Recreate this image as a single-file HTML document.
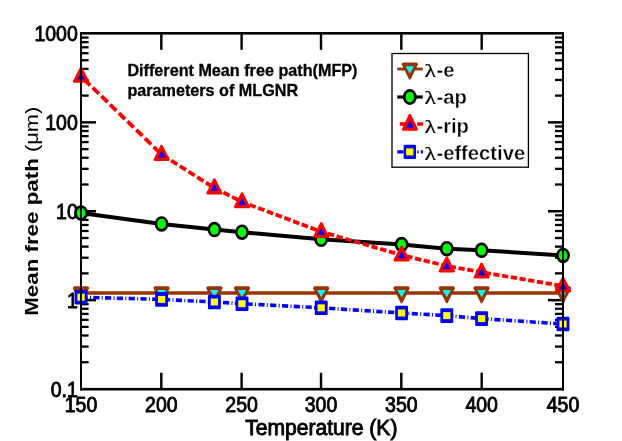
<!DOCTYPE html>
<html><head><meta charset="utf-8"><title>Mean free path vs Temperature</title><style>
html,body{margin:0;padding:0;background:#fff;}
body{width:622px;height:441px;overflow:hidden;}
svg{display:block;}
</style></head><body>
<svg width="622" height="441" viewBox="0 0 622 441">
<rect width="622" height="441" fill="#fff"/>
<g fill="#000">
<rect x="160.10" y="34" width="2.4" height="15.8"/>
<rect x="160.10" y="372.7" width="2.4" height="15.8"/>
<rect x="240.40" y="34" width="2.4" height="15.8"/>
<rect x="240.40" y="372.7" width="2.4" height="15.8"/>
<rect x="319.80" y="34" width="2.4" height="15.8"/>
<rect x="319.80" y="372.7" width="2.4" height="15.8"/>
<rect x="400.10" y="34" width="2.4" height="15.8"/>
<rect x="400.10" y="372.7" width="2.4" height="15.8"/>
<rect x="480.50" y="34" width="2.4" height="15.8"/>
<rect x="480.50" y="372.7" width="2.4" height="15.8"/>
<rect x="81" y="361.10" width="7.6" height="2.3"/>
<rect x="555" y="361.10" width="7.5" height="2.3"/>
<rect x="81" y="345.45" width="7.6" height="2.3"/>
<rect x="555" y="345.45" width="7.5" height="2.3"/>
<rect x="81" y="334.34" width="7.6" height="2.3"/>
<rect x="555" y="334.34" width="7.5" height="2.3"/>
<rect x="81" y="325.73" width="7.6" height="2.3"/>
<rect x="555" y="325.73" width="7.5" height="2.3"/>
<rect x="81" y="318.69" width="7.6" height="2.3"/>
<rect x="555" y="318.69" width="7.5" height="2.3"/>
<rect x="81" y="312.74" width="7.6" height="2.3"/>
<rect x="555" y="312.74" width="7.5" height="2.3"/>
<rect x="81" y="307.59" width="7.6" height="2.3"/>
<rect x="555" y="307.59" width="7.5" height="2.3"/>
<rect x="81" y="303.04" width="7.6" height="2.3"/>
<rect x="555" y="303.04" width="7.5" height="2.3"/>
<rect x="81" y="298.88" width="15" height="2.5"/>
<rect x="548" y="298.88" width="15" height="2.5"/>
<rect x="81" y="272.22" width="7.6" height="2.3"/>
<rect x="555" y="272.22" width="7.5" height="2.3"/>
<rect x="81" y="256.57" width="7.6" height="2.3"/>
<rect x="555" y="256.57" width="7.5" height="2.3"/>
<rect x="81" y="245.47" width="7.6" height="2.3"/>
<rect x="555" y="245.47" width="7.5" height="2.3"/>
<rect x="81" y="236.85" width="7.6" height="2.3"/>
<rect x="555" y="236.85" width="7.5" height="2.3"/>
<rect x="81" y="229.82" width="7.6" height="2.3"/>
<rect x="555" y="229.82" width="7.5" height="2.3"/>
<rect x="81" y="223.87" width="7.6" height="2.3"/>
<rect x="555" y="223.87" width="7.5" height="2.3"/>
<rect x="81" y="218.71" width="7.6" height="2.3"/>
<rect x="555" y="218.71" width="7.5" height="2.3"/>
<rect x="81" y="214.17" width="7.6" height="2.3"/>
<rect x="555" y="214.17" width="7.5" height="2.3"/>
<rect x="81" y="210.00" width="15" height="2.5"/>
<rect x="548" y="210.00" width="15" height="2.5"/>
<rect x="81" y="183.35" width="7.6" height="2.3"/>
<rect x="555" y="183.35" width="7.5" height="2.3"/>
<rect x="81" y="167.70" width="7.6" height="2.3"/>
<rect x="555" y="167.70" width="7.5" height="2.3"/>
<rect x="81" y="156.59" width="7.6" height="2.3"/>
<rect x="555" y="156.59" width="7.5" height="2.3"/>
<rect x="81" y="147.98" width="7.6" height="2.3"/>
<rect x="555" y="147.98" width="7.5" height="2.3"/>
<rect x="81" y="140.94" width="7.6" height="2.3"/>
<rect x="555" y="140.94" width="7.5" height="2.3"/>
<rect x="81" y="134.99" width="7.6" height="2.3"/>
<rect x="555" y="134.99" width="7.5" height="2.3"/>
<rect x="81" y="129.84" width="7.6" height="2.3"/>
<rect x="555" y="129.84" width="7.5" height="2.3"/>
<rect x="81" y="125.29" width="7.6" height="2.3"/>
<rect x="555" y="125.29" width="7.5" height="2.3"/>
<rect x="81" y="121.12" width="15" height="2.5"/>
<rect x="548" y="121.12" width="15" height="2.5"/>
<rect x="81" y="94.47" width="7.6" height="2.3"/>
<rect x="555" y="94.47" width="7.5" height="2.3"/>
<rect x="81" y="78.82" width="7.6" height="2.3"/>
<rect x="555" y="78.82" width="7.5" height="2.3"/>
<rect x="81" y="67.72" width="7.6" height="2.3"/>
<rect x="555" y="67.72" width="7.5" height="2.3"/>
<rect x="81" y="59.10" width="7.6" height="2.3"/>
<rect x="555" y="59.10" width="7.5" height="2.3"/>
<rect x="81" y="52.07" width="7.6" height="2.3"/>
<rect x="555" y="52.07" width="7.5" height="2.3"/>
<rect x="81" y="46.12" width="7.6" height="2.3"/>
<rect x="555" y="46.12" width="7.5" height="2.3"/>
<rect x="81" y="40.96" width="7.6" height="2.3"/>
<rect x="555" y="40.96" width="7.5" height="2.3"/>
<rect x="81" y="36.42" width="7.6" height="2.3"/>
<rect x="555" y="36.42" width="7.5" height="2.3"/>
</g>
<text transform="translate(77.80,41.10) scale(0.92,1)" font-family="'Liberation Sans', Arial, sans-serif" font-size="21.2" font-weight="normal" text-anchor="end" stroke="#000" stroke-width="0.9">1000</text>
<text transform="translate(77.80,129.97) scale(0.92,1)" font-family="'Liberation Sans', Arial, sans-serif" font-size="21.2" font-weight="normal" text-anchor="end" stroke="#000" stroke-width="0.9">100</text>
<text transform="translate(77.80,218.85) scale(0.92,1)" font-family="'Liberation Sans', Arial, sans-serif" font-size="21.2" font-weight="normal" text-anchor="end" stroke="#000" stroke-width="0.9">10</text>
<text transform="translate(77.80,307.73) scale(0.92,1)" font-family="'Liberation Sans', Arial, sans-serif" font-size="21.2" font-weight="normal" text-anchor="end" stroke="#000" stroke-width="0.9">1</text>
<text transform="translate(77.80,396.60) scale(0.92,1)" font-family="'Liberation Sans', Arial, sans-serif" font-size="21.2" font-weight="normal" text-anchor="end" stroke="#000" stroke-width="0.9">0.1</text>
<text transform="translate(81.00,411.80) scale(0.92,1)" font-family="'Liberation Sans', Arial, sans-serif" font-size="21.2" font-weight="normal" text-anchor="middle" stroke="#000" stroke-width="0.9">150</text>
<text transform="translate(161.30,411.80) scale(0.92,1)" font-family="'Liberation Sans', Arial, sans-serif" font-size="21.2" font-weight="normal" text-anchor="middle" stroke="#000" stroke-width="0.9">200</text>
<text transform="translate(241.60,411.80) scale(0.92,1)" font-family="'Liberation Sans', Arial, sans-serif" font-size="21.2" font-weight="normal" text-anchor="middle" stroke="#000" stroke-width="0.9">250</text>
<text transform="translate(321.00,411.80) scale(0.92,1)" font-family="'Liberation Sans', Arial, sans-serif" font-size="21.2" font-weight="normal" text-anchor="middle" stroke="#000" stroke-width="0.9">300</text>
<text transform="translate(401.30,411.80) scale(0.92,1)" font-family="'Liberation Sans', Arial, sans-serif" font-size="21.2" font-weight="normal" text-anchor="middle" stroke="#000" stroke-width="0.9">350</text>
<text transform="translate(481.70,411.80) scale(0.92,1)" font-family="'Liberation Sans', Arial, sans-serif" font-size="21.2" font-weight="normal" text-anchor="middle" stroke="#000" stroke-width="0.9">400</text>
<text transform="translate(563.00,411.80) scale(0.92,1)" font-family="'Liberation Sans', Arial, sans-serif" font-size="21.2" font-weight="normal" text-anchor="middle" stroke="#000" stroke-width="0.9">450</text>
<polyline points="81.00,293.00 161.60,293.00 214.40,293.00 242.00,293.00 321.20,293.00 401.60,293.00 446.80,293.00 481.60,293.00 563.00,293.00" fill="none" stroke="#983404" stroke-width="3.4"/>
<polyline points="81.00,213.10 161.60,223.90 214.40,229.60 242.00,232.20 321.20,239.30 401.60,244.50 446.80,248.70 481.60,250.30 563.00,255.40" fill="none" stroke="#000" stroke-width="4.0"/>
<path d="M81.00,76.40L81.47,76.86M83.98,79.29L90.18,85.30M92.69,87.73L98.89,93.74M101.40,96.17L107.60,102.17M110.11,104.61L116.31,110.61M118.82,113.05L125.02,119.05M127.53,121.49L133.73,127.49M136.24,129.93L142.44,135.93M144.95,138.37L151.15,144.37M153.66,146.81L159.86,152.81M162.37,154.99L168.57,158.92M171.08,160.51L177.28,164.45M179.79,166.04L185.99,169.97M188.50,171.57L194.70,175.50M197.21,177.09L203.41,181.03M205.92,182.62L212.12,186.55M214.63,188.12L220.83,191.24M223.34,192.50L229.54,195.62M232.05,196.89L238.25,200.01M240.76,201.28L242.00,201.90L246.96,203.77M249.47,204.71L255.67,207.04M258.18,207.99L264.38,210.32M266.89,211.27L273.09,213.60M275.60,214.54L281.80,216.88M284.31,217.82L290.51,220.15M293.02,221.10L299.22,223.43M301.73,224.37L307.93,226.71M310.44,227.65L316.64,229.98M319.15,230.93L321.20,231.70L325.35,232.91M327.86,233.64L334.06,235.44M336.57,236.17L342.77,237.98M345.28,238.71L351.48,240.51M353.99,241.24L360.19,243.05M362.70,243.78L368.90,245.58M371.41,246.31L377.61,248.12M380.12,248.85L386.32,250.65M388.83,251.38L395.03,253.19M397.54,253.92L401.60,255.10L403.74,255.62M406.25,256.22L412.45,257.72M414.96,258.32L421.16,259.82M423.67,260.42L429.87,261.92M432.38,262.52L438.58,264.02M441.09,264.62L446.80,266.00L447.29,266.09M449.80,266.53L456.00,267.64M458.51,268.09L464.71,269.19M467.22,269.64L473.42,270.74M475.93,271.19L481.60,272.20L482.13,272.29M484.64,272.72L490.84,273.78M493.35,274.21L499.55,275.27M502.06,275.69L508.26,276.75M510.77,277.18L516.97,278.24M519.48,278.67L525.68,279.73M528.19,280.16L534.39,281.21M536.90,281.64L543.10,282.70M545.61,283.13L551.81,284.19M554.32,284.62L560.52,285.68" fill="none" stroke="#ff0000" stroke-width="3.8"/>
<path d="M81.45,297.21L87.65,297.38M93.24,297.53L99.44,297.70M89.94,297.44L90.94,297.47M105.04,297.86L111.24,298.03M101.74,297.77L102.74,297.79M116.83,298.18L123.03,298.35M113.53,298.09L114.53,298.12M128.63,298.50L134.83,298.67M125.33,298.41L126.33,298.44M140.42,298.82L146.62,298.99M137.12,298.73L138.12,298.76M152.21,299.14L158.41,299.31M148.91,299.05L149.91,299.08M164.01,299.52L170.21,299.82M160.71,299.38L161.60,299.40L161.71,299.41M175.80,300.10L182.00,300.40M172.50,299.94L173.50,299.99M187.60,300.68L193.80,300.99M184.30,300.52L185.30,300.57M199.39,301.26L205.59,301.57M196.09,301.10L197.09,301.15M211.18,301.84L214.40,302.00L217.38,302.18M207.88,301.68L208.88,301.73M222.98,302.53L229.18,302.91M219.68,302.33L220.68,302.39M234.77,303.25L240.97,303.64M231.47,303.05L232.47,303.11M246.57,303.94L252.77,304.26M243.27,303.77L244.27,303.82M258.36,304.55L264.56,304.87M255.06,304.38L256.06,304.43M270.15,305.16L276.35,305.48M266.85,304.99L267.85,305.04M281.95,305.77L288.15,306.09M278.65,305.60L279.65,305.65M293.74,306.38L299.94,306.70M290.44,306.21L291.44,306.26M305.54,306.99L311.74,307.31M302.24,306.82L303.24,306.87M317.33,307.60L321.20,307.80L323.53,307.95M314.03,307.43L315.03,307.48M329.12,308.31L335.32,308.71M325.82,308.10L326.82,308.16M340.92,309.08L347.12,309.48M337.62,308.86L338.62,308.93M352.71,309.84L358.91,310.24M349.41,309.62L350.41,309.69M364.51,310.60L370.71,311.00M361.21,310.39L362.21,310.45M376.30,311.36L382.50,311.76M373.00,311.15L374.00,311.21M388.09,312.13L394.29,312.53M384.79,311.91L385.79,311.98M399.89,312.89L401.60,313.00L406.09,313.26M396.59,312.68L397.59,312.74M411.68,313.58L417.88,313.94M408.38,313.39L409.38,313.45M423.48,314.26L429.68,314.61M420.18,314.07L421.18,314.13M435.27,314.94L441.47,315.29M431.97,314.75L432.97,314.80M447.06,315.62L453.26,316.16M443.76,315.43L444.76,315.48M458.86,316.64L465.06,317.17M455.56,316.36L456.56,316.44M470.65,317.66L476.85,318.19M467.35,317.37L468.35,317.46M482.45,318.66L488.65,319.07M479.15,318.39L480.15,318.47M494.24,319.44L500.44,319.85M490.94,319.22L491.94,319.29M506.03,320.22L512.23,320.63M502.73,320.00L503.73,320.07M517.83,321.00L524.03,321.41M514.53,320.78L515.53,320.85M529.62,321.79L535.82,322.20M526.32,321.57L527.32,321.63M541.42,322.57L547.62,322.98M538.12,322.35L539.12,322.42M553.21,323.35L559.41,323.76M549.91,323.13L550.91,323.20M561.70,323.91L562.70,323.98" fill="none" stroke="#0000ff" stroke-width="3.6"/>
<polygon points="74.00,286.30 88.00,286.30 89.30,287.90 81.70,303.30 80.30,303.30 72.70,287.90" fill="#983404"/><polygon points="76.75,290.05 85.25,290.05 81.00,297.30" fill="#00ffff"/>
<polygon points="154.60,286.30 168.60,286.30 169.90,287.90 162.30,303.30 160.90,303.30 153.30,287.90" fill="#983404"/><polygon points="157.35,290.05 165.85,290.05 161.60,297.30" fill="#00ffff"/>
<polygon points="207.40,286.30 221.40,286.30 222.70,287.90 215.10,303.30 213.70,303.30 206.10,287.90" fill="#983404"/><polygon points="210.15,290.05 218.65,290.05 214.40,297.30" fill="#00ffff"/>
<polygon points="235.00,286.30 249.00,286.30 250.30,287.90 242.70,303.30 241.30,303.30 233.70,287.90" fill="#983404"/><polygon points="237.75,290.05 246.25,290.05 242.00,297.30" fill="#00ffff"/>
<polygon points="314.20,286.30 328.20,286.30 329.50,287.90 321.90,303.30 320.50,303.30 312.90,287.90" fill="#983404"/><polygon points="316.95,290.05 325.45,290.05 321.20,297.30" fill="#00ffff"/>
<polygon points="394.60,286.30 408.60,286.30 409.90,287.90 402.30,303.30 400.90,303.30 393.30,287.90" fill="#983404"/><polygon points="397.35,290.05 405.85,290.05 401.60,297.30" fill="#00ffff"/>
<polygon points="439.80,286.30 453.80,286.30 455.10,287.90 447.50,303.30 446.10,303.30 438.50,287.90" fill="#983404"/><polygon points="442.55,290.05 451.05,290.05 446.80,297.30" fill="#00ffff"/>
<polygon points="474.60,286.30 488.60,286.30 489.90,287.90 482.30,303.30 480.90,303.30 473.30,287.90" fill="#983404"/><polygon points="477.35,290.05 485.85,290.05 481.60,297.30" fill="#00ffff"/>
<polygon points="556.00,286.30 570.00,286.30 571.30,287.90 563.70,303.30 562.30,303.30 554.70,287.90" fill="#983404"/><polygon points="558.75,290.05 567.25,290.05 563.00,297.30" fill="#00ffff"/>
<ellipse cx="81.00" cy="213.10" rx="6.90" ry="7.75" fill="#000"/><ellipse cx="81.00" cy="213.10" rx="4.35" ry="5.10" fill="#00ff00"/>
<ellipse cx="161.60" cy="223.90" rx="6.90" ry="7.75" fill="#000"/><ellipse cx="161.60" cy="223.90" rx="4.35" ry="5.10" fill="#00ff00"/>
<ellipse cx="214.40" cy="229.60" rx="6.90" ry="7.75" fill="#000"/><ellipse cx="214.40" cy="229.60" rx="4.35" ry="5.10" fill="#00ff00"/>
<ellipse cx="242.00" cy="232.20" rx="6.90" ry="7.75" fill="#000"/><ellipse cx="242.00" cy="232.20" rx="4.35" ry="5.10" fill="#00ff00"/>
<ellipse cx="321.20" cy="239.30" rx="6.90" ry="7.75" fill="#000"/><ellipse cx="321.20" cy="239.30" rx="4.35" ry="5.10" fill="#00ff00"/>
<ellipse cx="401.60" cy="244.50" rx="6.90" ry="7.75" fill="#000"/><ellipse cx="401.60" cy="244.50" rx="4.35" ry="5.10" fill="#00ff00"/>
<ellipse cx="446.80" cy="248.70" rx="6.90" ry="7.75" fill="#000"/><ellipse cx="446.80" cy="248.70" rx="4.35" ry="5.10" fill="#00ff00"/>
<ellipse cx="481.60" cy="250.30" rx="6.90" ry="7.75" fill="#000"/><ellipse cx="481.60" cy="250.30" rx="4.35" ry="5.10" fill="#00ff00"/>
<ellipse cx="563.00" cy="255.40" rx="6.90" ry="7.75" fill="#000"/><ellipse cx="563.00" cy="255.40" rx="4.35" ry="5.10" fill="#00ff00"/>
<polygon points="80.10,67.00 81.90,67.00 89.30,81.60 88.10,82.80 73.90,82.80 72.70,81.60" fill="#ff0000"/><polygon points="81.00,72.40 84.75,79.50 77.25,79.50" fill="#0000ff"/>
<polygon points="160.70,145.10 162.50,145.10 169.90,159.70 168.70,160.90 154.50,160.90 153.30,159.70" fill="#ff0000"/><polygon points="161.60,150.50 165.35,157.60 157.85,157.60" fill="#0000ff"/>
<polygon points="213.50,178.60 215.30,178.60 222.70,193.20 221.50,194.40 207.30,194.40 206.10,193.20" fill="#ff0000"/><polygon points="214.40,184.00 218.15,191.10 210.65,191.10" fill="#0000ff"/>
<polygon points="241.10,192.50 242.90,192.50 250.30,207.10 249.10,208.30 234.90,208.30 233.70,207.10" fill="#ff0000"/><polygon points="242.00,197.90 245.75,205.00 238.25,205.00" fill="#0000ff"/>
<polygon points="320.30,222.30 322.10,222.30 329.50,236.90 328.30,238.10 314.10,238.10 312.90,236.90" fill="#ff0000"/><polygon points="321.20,227.70 324.95,234.80 317.45,234.80" fill="#0000ff"/>
<polygon points="400.70,245.70 402.50,245.70 409.90,260.30 408.70,261.50 394.50,261.50 393.30,260.30" fill="#ff0000"/><polygon points="401.60,251.10 405.35,258.20 397.85,258.20" fill="#0000ff"/>
<polygon points="445.90,256.60 447.70,256.60 455.10,271.20 453.90,272.40 439.70,272.40 438.50,271.20" fill="#ff0000"/><polygon points="446.80,262.00 450.55,269.10 443.05,269.10" fill="#0000ff"/>
<polygon points="480.70,262.80 482.50,262.80 489.90,277.40 488.70,278.60 474.50,278.60 473.30,277.40" fill="#ff0000"/><polygon points="481.60,268.20 485.35,275.30 477.85,275.30" fill="#0000ff"/>
<polygon points="562.10,276.70 563.90,276.70 571.30,291.30 570.10,292.50 555.90,292.50 554.70,291.30" fill="#ff0000"/><polygon points="563.00,282.10 566.75,289.20 559.25,289.20" fill="#0000ff"/>
<rect x="74.55" y="289.90" width="12.90" height="14.60" rx="1.2" fill="#0000ff"/><rect x="77.35" y="293.70" width="7.30" height="7.00" fill="#ffff00"/>
<rect x="155.15" y="292.10" width="12.90" height="14.60" rx="1.2" fill="#0000ff"/><rect x="157.95" y="295.90" width="7.30" height="7.00" fill="#ffff00"/>
<rect x="207.95" y="294.70" width="12.90" height="14.60" rx="1.2" fill="#0000ff"/><rect x="210.75" y="298.50" width="7.30" height="7.00" fill="#ffff00"/>
<rect x="235.55" y="296.40" width="12.90" height="14.60" rx="1.2" fill="#0000ff"/><rect x="238.35" y="300.20" width="7.30" height="7.00" fill="#ffff00"/>
<rect x="314.75" y="300.50" width="12.90" height="14.60" rx="1.2" fill="#0000ff"/><rect x="317.55" y="304.30" width="7.30" height="7.00" fill="#ffff00"/>
<rect x="395.15" y="305.70" width="12.90" height="14.60" rx="1.2" fill="#0000ff"/><rect x="397.95" y="309.50" width="7.30" height="7.00" fill="#ffff00"/>
<rect x="440.35" y="308.30" width="12.90" height="14.60" rx="1.2" fill="#0000ff"/><rect x="443.15" y="312.10" width="7.30" height="7.00" fill="#ffff00"/>
<rect x="475.15" y="311.30" width="12.90" height="14.60" rx="1.2" fill="#0000ff"/><rect x="477.95" y="315.10" width="7.30" height="7.00" fill="#ffff00"/>
<rect x="556.55" y="316.70" width="12.90" height="14.60" rx="1.2" fill="#0000ff"/><rect x="559.35" y="320.50" width="7.30" height="7.00" fill="#ffff00"/>
<g fill="#000">
<rect x="80" y="32" width="2" height="358.5"/>
<rect x="562" y="32" width="2" height="358.5"/>
<rect x="80" y="32" width="484" height="2.6"/>
<rect x="80" y="387.9" width="484" height="2.6"/>
</g>
<text transform="translate(321.30,434.60) scale(0.99,1)" font-family="'Liberation Sans', Arial, sans-serif" font-size="21.3" font-weight="normal" text-anchor="middle" stroke="#000" stroke-width="0.9">Temperature (K)</text>
<text transform="translate(37.7,315.8) rotate(-90) scale(1.016,0.86)" font-family="'Liberation Sans', Arial, sans-serif" font-size="22" font-weight="bold">Mean free path <tspan font-weight="normal" font-size="21.5">(μm)</tspan></text>
<text transform="translate(127.40,76.40) scale(1.012,1)" font-family="'Liberation Sans', Arial, sans-serif" font-size="16" font-weight="bold" text-anchor="start" stroke="#000" stroke-width="0.3">Different Mean free path(MFP)</text>
<text transform="translate(127.40,96.40) scale(1.012,1)" font-family="'Liberation Sans', Arial, sans-serif" font-size="16" font-weight="bold" text-anchor="start" stroke="#000" stroke-width="0.3">parameters of MLGNR</text>
<rect x="392" y="53.5" width="136.4" height="113.7" fill="#fff" stroke="#000" stroke-width="1.3"/>
<polyline points="397.30,69.00 422.80,69.00" fill="none" stroke="#983404" stroke-width="2.8"/>
<polygon points="402.80,62.60 416.80,62.60 418.10,64.20 410.50,79.60 409.10,79.60 401.50,64.20" fill="#983404"/><polygon points="405.55,66.35 414.05,66.35 409.80,73.60" fill="#00ffff"/>
<polyline points="397.30,97.00 422.80,97.00" fill="none" stroke="#000" stroke-width="3.2"/>
<ellipse cx="409.80" cy="97.00" rx="7.00" ry="7.90" fill="#000"/><ellipse cx="409.80" cy="97.00" rx="4.20" ry="5.25" fill="#00ff00"/>
<path d="M399.80,124.00L406.00,124.00M408.51,124.00L414.71,124.00M417.22,124.00L423.10,124.00" fill="none" stroke="#ff0000" stroke-width="3.6"/>
<polygon points="409.00,114.10 410.80,114.10 418.10,129.50 416.90,130.70 402.90,130.70 401.70,129.50" fill="#ff0000"/><polygon points="409.90,120.10 413.60,127.80 406.20,127.80" fill="#0000ff"/>
<path d="M397.30,151.90L403.50,151.90M409.09,151.90L415.29,151.90M405.69,151.90L406.89,151.90M420.89,151.90L422.90,151.90M417.49,151.90L418.69,151.90" fill="none" stroke="#0000ff" stroke-width="3.4"/>
<rect x="403.60" y="144.75" width="12.40" height="14.30" rx="1.2" fill="#0000ff"/><rect x="406.15" y="148.40" width="7.30" height="7.00" fill="#ffff00"/>
<text transform="translate(424.6,76.60) scale(1.22,1)" font-family="'Liberation Serif', serif" font-size="19.5" stroke="#000" stroke-width="0.2">λ</text>
<text transform="translate(436.40,76.60) scale(0.963,1)" font-family="'Liberation Sans', Arial, sans-serif" font-size="21" font-weight="bold" text-anchor="start" stroke="#fff" stroke-width="0.35">-e</text>
<text transform="translate(424.6,103.80) scale(1.22,1)" font-family="'Liberation Serif', serif" font-size="19.5" stroke="#000" stroke-width="0.2">λ</text>
<text transform="translate(436.40,103.80) scale(0.963,1)" font-family="'Liberation Sans', Arial, sans-serif" font-size="21" font-weight="bold" text-anchor="start" stroke="#fff" stroke-width="0.35">-ap</text>
<text transform="translate(424.6,133.00) scale(1.22,1)" font-family="'Liberation Serif', serif" font-size="19.5" stroke="#000" stroke-width="0.2">λ</text>
<text transform="translate(436.40,133.00) scale(0.963,1)" font-family="'Liberation Sans', Arial, sans-serif" font-size="21" font-weight="bold" text-anchor="start" stroke="#fff" stroke-width="0.35">-rip</text>
<text transform="translate(424.6,160.30) scale(1.22,1)" font-family="'Liberation Serif', serif" font-size="19.5" stroke="#000" stroke-width="0.2">λ</text>
<text transform="translate(436.40,160.30) scale(0.963,1)" font-family="'Liberation Sans', Arial, sans-serif" font-size="21" font-weight="bold" text-anchor="start" stroke="#fff" stroke-width="0.35">-effective</text>
</svg>
</body></html>
